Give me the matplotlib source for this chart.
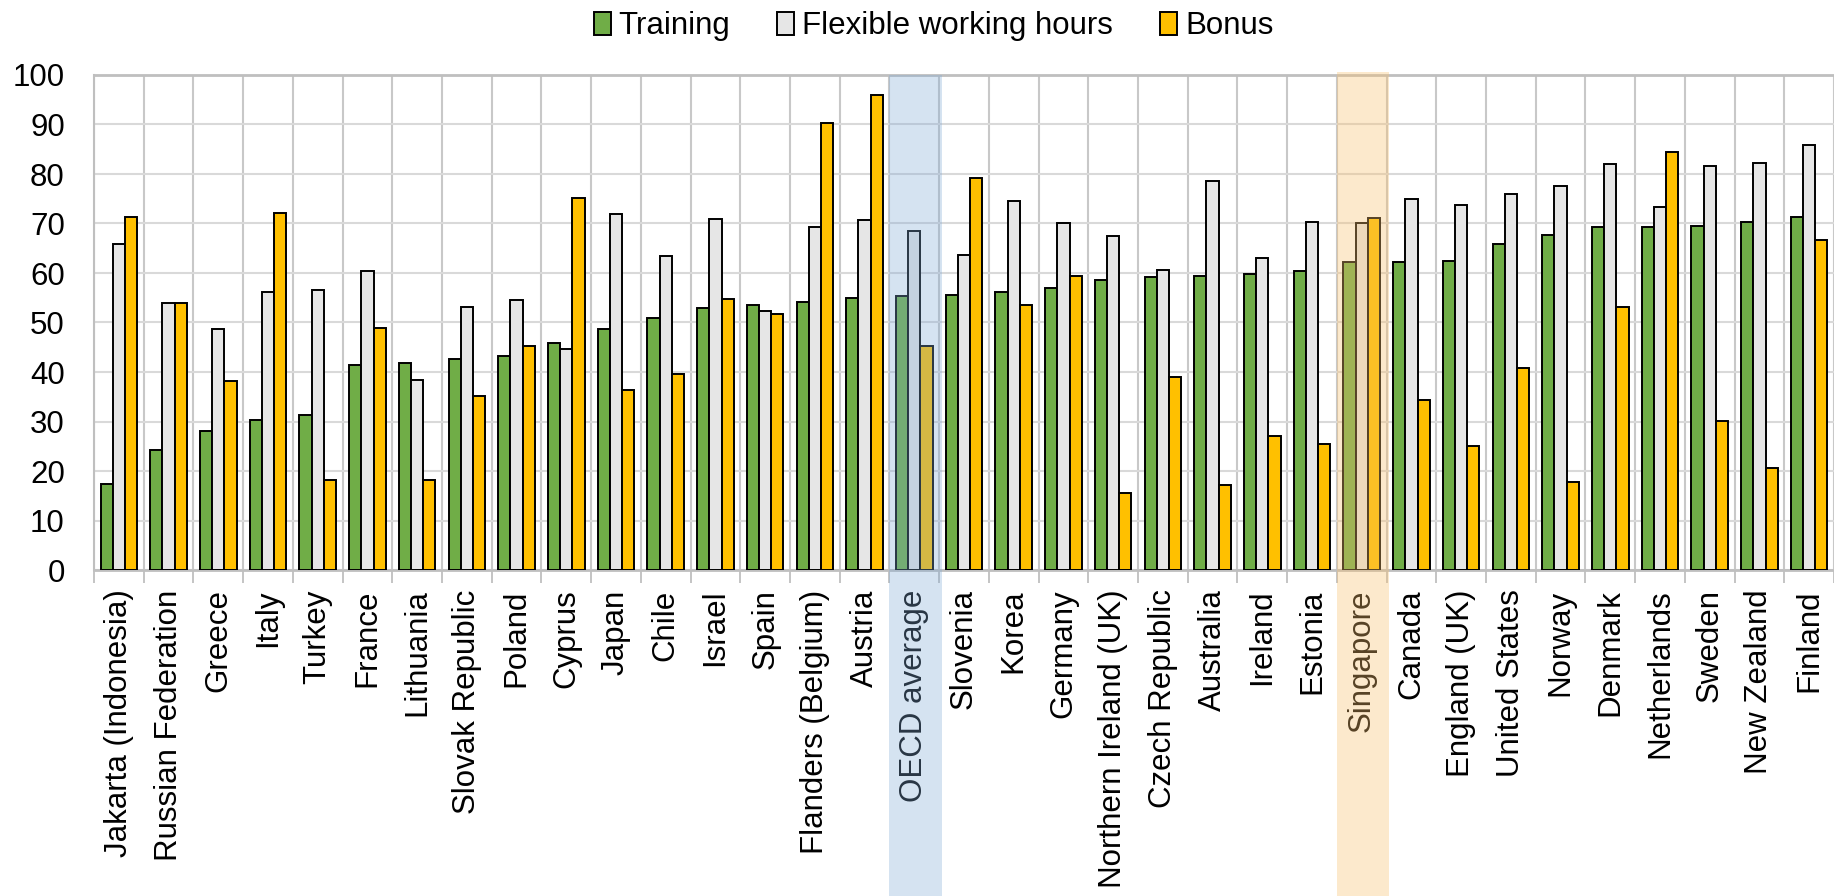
import numpy as np
import matplotlib
matplotlib.use('Agg')
import matplotlib.pyplot as plt
from matplotlib.patches import Rectangle
from matplotlib.transforms import blended_transform_factory

countries = ['Jakarta (Indonesia)', 'Russian Federation', 'Greece', 'Italy', 'Turkey',
             'France', 'Lithuania', 'Slovak Republic', 'Poland', 'Cyprus', 'Japan',
             'Chile', 'Israel', 'Spain', 'Flanders (Belgium)', 'Austria', 'OECD average',
             'Slovenia', 'Korea', 'Germany', 'Northern Ireland (UK)', 'Czech Republic',
             'Australia', 'Ireland', 'Estonia', 'Singapore', 'Canada', 'England (UK)',
             'United States', 'Norway', 'Denmark', 'Netherlands', 'Sweden', 'New Zealand',
             'Finland']

training = [17.3, 24.2, 28.0, 30.4, 31.4, 41.5, 41.8, 42.6, 43.3, 45.9, 48.6,
            50.9, 52.9, 53.6, 54.1, 55.0, 55.4, 55.6, 56.2, 56.9, 58.6, 59.2,
            59.3, 59.7, 60.4, 62.3, 62.3, 62.4, 65.8, 67.6, 69.2, 69.3, 69.4,
            70.4, 71.4]
flexible = [65.8, 54.0, 48.7, 56.1, 56.5, 60.4, 38.3, 53.1, 54.6, 44.6, 72.0,
            63.5, 71.0, 52.3, 69.3, 70.8, 68.4, 63.7, 74.6, 70.1, 67.5, 60.7,
            78.5, 63.0, 70.3, 70.2, 74.9, 73.8, 75.9, 77.6, 82.0, 73.3, 81.7,
            82.2, 85.8]
bonus = [71.4, 54.0, 38.2, 72.2, 18.1, 48.8, 18.2, 35.2, 45.3, 75.1, 36.4,
         39.5, 54.7, 51.8, 90.3, 96.0, 45.3, 79.1, 53.6, 59.4, 15.6, 39.0,
         17.1, 27.1, 25.5, 71.1, 34.4, 25.0, 40.8, 17.8, 53.1, 84.5, 30.1,
         20.6, 66.6]

series_names = ['Training', 'Flexible working hours', 'Bonus']
colors = ['#70AD47', '#E6E6E6', '#FFC000']

plt.rcParams['font.family'] = ['Liberation Sans', 'DejaVu Sans']
plt.rcParams['font.size'] = 22.5

fig = plt.figure(figsize=(18.34, 8.96), dpi=100)
ax_left, ax_bottom = 94 / 1834, 1 - 570 / 896
ax_top = 1 - 75 / 896
ax = fig.add_axes([ax_left, ax_bottom, 1 - ax_left, ax_top - ax_bottom])

n = len(countries)
x = np.arange(n)
w = 0.246
for k, (vals, c, name) in enumerate(zip([training, flexible, bonus], colors, series_names)):
    ax.bar(x + (k - 1) * w, vals, width=w, color=c, edgecolor='black',
           linewidth=1.4, label=name, zorder=3)

ax.set_xlim(-0.5, -0.5 + (1834 - 94) / 50.05)
ax.set_ylim(0, 100)
ax.set_yticks(np.arange(0, 101, 10))
ax.set_xticks(x)
ax.set_xticklabels(countries, rotation=90, va='top', ha='center')
ax.set_xticks(np.arange(-0.5, n, 1), minor=True)
ax.tick_params(axis='x', which='major', length=0, pad=14)
ax.tick_params(axis='x', which='minor', length=9, color='#BFBFBF', width=1.3)
ax.tick_params(axis='y', length=0, pad=21)

ax.grid(axis='y', color='#D9D9D9', linewidth=1.5, zorder=0)
ax.grid(axis='x', which='minor', color='#C8C8C8', linewidth=1.5, zorder=0)
ax.set_axisbelow(True)
for s in ['left', 'top', 'bottom']:
    ax.spines[s].set_color('#BFBFBF')
    ax.spines[s].set_linewidth(2)
ax.spines['left'].set_linewidth(1.5)
ax.spines['right'].set_visible(False)

# highlight bands over OECD average and Singapore
trans = blended_transform_factory(ax.transData, fig.transFigure)
i_oecd = countries.index('OECD average')
i_sg = countries.index('Singapore')
fig.add_artist(Rectangle((i_oecd - 0.5, 0), 1.05, ax_top, transform=trans,
                         facecolor='#7FAAD6', alpha=0.32, edgecolor='none',
                         zorder=10, clip_on=False))
fig.add_artist(Rectangle((i_sg - 0.5, 0), 1.05, ax_top + 3 / 896, transform=trans,
                         facecolor='#F9C06D', alpha=0.35, edgecolor='none',
                         zorder=10, clip_on=False))

fig.legend(loc='center', bbox_to_anchor=(0.509, 0.971), ncol=3, frameon=False,
           handlelength=0.55, handleheight=0.75, handletextpad=0.25,
           columnspacing=1.5, borderaxespad=0)

fig.savefig('out.png', dpi=100)
